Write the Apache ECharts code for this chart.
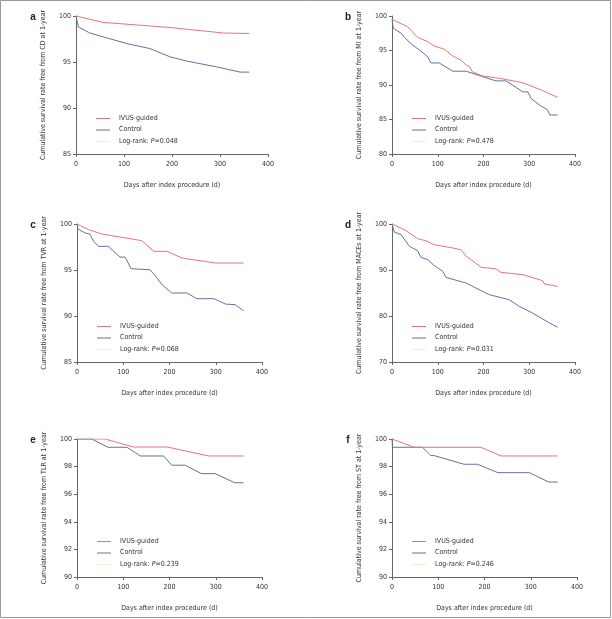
<!DOCTYPE html>
<html><head><meta charset="utf-8">
<script src="https://cdn.jsdelivr.net/npm/echarts@6/dist/echarts.min.js"></script>
<style>html,body{margin:0;padding:0;background:#fff}#c{width:612px;height:619px}</style>
</head><body><div id="c"></div>
<script>
// ---- data ([day, survival %]) ----
const panelLetters = ['a','b','c','d','e','f'];
const yTitles = [
  'Cumulative survival rate free from CD at 1-year',
  'Cumulative survival rate free from MI at 1-year',
  'Cumulative survival rate free from TVR at 1-year',
  'Cumulative survival rate free from MACEs at 1-year',
  'Cumulative survival rate free from TLR at 1-year',
  'Cumulative survival rate free from ST at 1-year'
];
const pValues = ['0.048','0.478','0.068','0.031','0.239','0.246'];
const seriesNames = ['IVUS-guided','Control'];
const xTitle = 'Days after index procedure (d)';

const aIvus = [[0,100],[57,99.3],[126,99.03],[196,98.75],[307,98.15],[361,98.1]];
const aCtrl = [[0,100],[5,98.8],[29,98.15],[106,97.0],[154,96.46],[196,95.56],[231,95.1],[293,94.47],[342,93.9],[361,93.9]];

const bIvus = [[0,99.5],[34,98.45],[56,96.9],[78,96.3],[92,95.65],[114,95.2],[133,94.2],[151,93.6],[162,92.9],[170,92.65],[176,91.9],[198,91.3],[235,90.97],[286,90.33],[329,89.2],[362,88.2]];
const bCtrl = [[0,99.5],[3,98.2],[20,97.5],[27,96.9],[45,95.8],[60,95.07],[78,94.1],[85,93.2],[103,93.2],[133,92.0],[162,92.0],[205,91.06],[227,90.6],[249,90.6],[286,89.0],[297,89.0],[304,88.07],[322,87.1],[340,86.4],[345,85.65],[362,85.65]];

const cIvus = [[0,100],[25,99.39],[54,98.91],[140,98.19],[166,97.03],[195,97.03],[227,96.3],[299,95.76],[360,95.76]];
const cCtrl = [[0,99.5],[18,99.02],[28,98.9],[36,98.1],[47,97.57],[68,97.57],[93,96.4],[104,96.4],[117,95.14],[158,95.03],[173,94.13],[184,93.4],[205,92.5],[238,92.5],[259,91.88],[296,91.88],[321,91.3],[342,91.23],[360,90.58]];

const dIvus = [[0,100],[31,98.55],[56,96.8],[74,96.37],[92,95.5],[133,94.78],[151,94.4],[162,92.97],[173,92.25],[195,90.58],[227,90.28],[238,89.5],[286,88.98],[322,87.9],[329,87.67],[333,86.96],[362,86.45]];
const dCtrl = [[0,100],[5,98.26],[20,97.68],[38,95.15],[56,94.2],[63,92.76],[78,92.25],[92,91.0],[111,89.7],[118,88.4],[162,87.17],[205,85.0],[213,84.63],[256,83.54],[278,82.1],[307,80.65],[344,78.5],[362,77.55]];

const eIvus = [[0,100],[61,100],[122,99.42],[195,99.42],[285,98.77],[360,98.77]];
const eCtrl = [[0,100],[32,100],[67,99.4],[108,99.4],[137,98.77],[187,98.77],[205,98.1],[234,98.1],[269,97.49],[299,97.49],[341,96.83],[360,96.83]];

const fIvus = [[0,100],[48,99.4],[192,99.4],[236,98.77],[358,98.77]];
const fCtrl = [[0,100],[1,99.4],[66,99.4],[84,98.8],[91,98.8],[156,98.17],[185,98.17],[229,97.56],[297,97.56],[339,96.88],[358,96.88]];

const ivusData = [aIvus,bIvus,cIvus,dIvus,eIvus,fIvus];
const ctrlData = [aCtrl,bCtrl,cCtrl,dCtrl,eCtrl,fCtrl];
const yMins = [85,80,85,70,90,90];
const yIntervals = [5,5,5,10,2,2];
const xMin = 0, xMax = 400, xInterval = 100;

// ---- layout ----
const grids = [
  {left:76, top:16, width:192, height:138},
  {left:392, top:16, width:183, height:138},
  {left:77, top:224, width:185, height:138},
  {left:392, top:224, width:183, height:138},
  {left:77, top:439, width:185, height:138},
  {left:392, top:439, width:185, height:138}
];
const legendPos = [
  {x:96, y:118}, {x:412, y:118},
  {x:97, y:326}, {x:412, y:326},
  {x:97, y:541}, {x:412, y:541}
];
const letterPos = [{x:33,y:17},{x:348,y:17},{x:33,y:225},{x:348,y:225},{x:33,y:440},{x:348,y:440}];

const FONT = '"Liberation Sans Narrow","DejaVu Sans Condensed","Arial Narrow",sans-serif';
const RED = '#e8747a', BLUE = '#6470a4', AX = '#666', TXT = '#333';
const FS = 7;

const option = {animation:false, grid:[], xAxis:[], yAxis:[], series:[], graphic:[]};
grids.forEach((g,i)=>{
  option.grid.push(Object.assign({containLabel:false}, g));
  option.xAxis.push({
    type:'value', gridIndex:i, min:xMin, max:xMax, interval:xInterval,
    name:xTitle, nameLocation:'middle', nameGap:28,
    nameTextStyle:{fontFamily:FONT, fontSize:FS, color:TXT},
    axisLine:{lineStyle:{color:AX, width:1}},
    axisTick:{show:true, length:3, lineStyle:{color:AX}},
    axisLabel:{fontFamily:FONT, fontSize:FS, color:TXT, margin:7},
    splitLine:{show:false}
  });
  option.yAxis.push({
    type:'value', gridIndex:i, min:yMins[i], max:100, interval:yIntervals[i],
    name:yTitles[i], nameLocation:'middle', nameGap:29, nameRotate:90,
    nameTextStyle:{fontFamily:FONT, fontSize:FS, color:TXT},
    axisLine:{show:true, lineStyle:{color:AX, width:1}},
    axisTick:{show:true, length:3, lineStyle:{color:AX}},
    axisLabel:{fontFamily:FONT, fontSize:FS, color:TXT, margin:5},
    splitLine:{show:false}
  });
  option.series.push({
    type:'line', name:seriesNames[0], xAxisIndex:i, yAxisIndex:i, data:ivusData[i],
    showSymbol:false, symbol:'none', lineStyle:{color:RED, width:1}, itemStyle:{color:RED}, z:3
  });
  option.series.push({
    type:'line', name:seriesNames[1], xAxisIndex:i, yAxisIndex:i, data:ctrlData[i],
    showSymbol:false, symbol:'none', lineStyle:{color:BLUE, width:1}, itemStyle:{color:BLUE}, z:2
  });
  const lp = legendPos[i];
  const rows = [
    {color:RED, text:seriesNames[0]},
    {color:BLUE, text:seriesNames[1]},
    {color:'#f2eed6', text:null}
  ];
  rows.forEach((r,k)=>{
    const y = lp.y + k*11.5;
    option.graphic.push({type:'line', shape:{x1:lp.x, y1:y+0.5, x2:lp.x+14, y2:y+0.5}, style:{stroke:r.color, lineWidth:1}});
    if (r.text) {
      option.graphic.push({type:'text', x:lp.x+23, y:y, style:{text:r.text, fontFamily:FONT, fontSize:FS, fill:TXT, verticalAlign:'middle'}});
    } else {
      option.graphic.push({type:'text', x:lp.x+23, y:y, style:{
        text:'Log-rank: {i|P}=' + pValues[i],
        fontFamily:FONT, fontSize:FS, fill:TXT, verticalAlign:'middle',
        rich:{i:{fontStyle:'italic', fontFamily:FONT, fontSize:FS, fill:TXT}}
      }});
    }
  });
  option.graphic.push({type:'text', x:letterPos[i].x, y:letterPos[i].y, style:{
    text:panelLetters[i], fontFamily:'"Liberation Sans",sans-serif', fontWeight:'bold', fontSize:10, fill:'#222',
    align:'center', verticalAlign:'middle'}});
});
option.graphic.push({type:'rect', shape:{x:0.5, y:0.5, width:610, height:617}, style:{fill:'none', stroke:'#999', lineWidth:1}, z:-1});

const chart = echarts.init(document.getElementById('c'), null, {renderer:'canvas'});
chart.setOption(option);
</script></body></html>
